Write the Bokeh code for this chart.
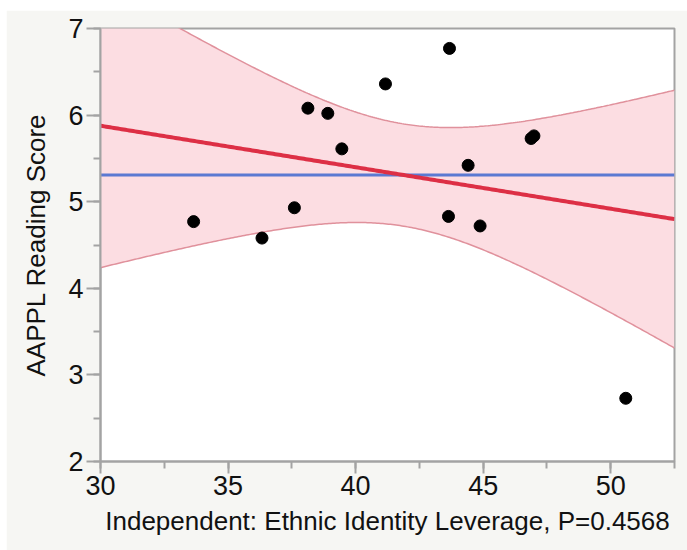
import numpy as np
from bokeh.plotting import figure
from bokeh.models import Range1d, SingleIntervalTicker, Spacer
from bokeh.layouts import column, row
from bokeh.embed import file_html
from bokeh.resources import INLINE

# Leverage values (x) and reading scores (y)
leverage = [33.65, 36.33, 37.60, 38.13, 38.91, 39.46, 41.17,
            43.68, 44.41, 43.64, 44.88, 46.88, 46.99, 50.59]
reading_score = [4.77, 4.58, 4.93, 6.08, 6.02, 5.61, 6.36,
                 6.77, 5.42, 4.83, 4.72, 5.73, 5.76, 2.73]

x_label = "Independent: Ethnic Identity Leverage, P=0.4568"
y_label = "AAPPL Reading Score"
x_lo, x_hi = 30, 52.5
y_lo, y_hi = 2, 7
T_CRIT = 2.1788  # two-sided 95% t quantile, 12 degrees of freedom

# least-squares fit, mean line and 95% confidence curves for the fit
x = np.array(leverage)
y = np.array(reading_score)
n = len(x)
xbar, ybar = x.mean(), y.mean()
sxx = ((x - xbar) ** 2).sum()
slope = ((x - xbar) * (y - ybar)).sum() / sxx
intercept = ybar - slope * xbar
mse = ((y - (intercept + slope * x)) ** 2).sum() / (n - 2)

grid = np.linspace(x_lo, x_hi, 300)
fit = intercept + slope * grid
half = T_CRIT * np.sqrt(mse * (1.0 / n + (grid - xbar) ** 2 / sxx))

FONT = "Liberation Sans"
AXIS_GREY = "#a3a3a3"
PANEL = "#f6f6f3"

p = figure(width=681, height=540, output_backend="svg", toolbar_location=None,
           x_range=Range1d(x_lo, x_hi), y_range=Range1d(y_lo, y_hi),
           min_border_left=94, min_border_right=13, min_border_top=18,
           min_border_bottom=89)
p.background_fill_color = "white"
p.border_fill_color = PANEL
p.outline_line_color = AXIS_GREY
p.outline_line_width = 2
p.grid.visible = False

# confidence band
p.varea(x=grid, y1=fit - half, y2=fit + half, fill_color="#fcdde2")
p.line(grid, fit + half, line_color="#e0919c", line_width=1.5)
p.line(grid, fit - half, line_color="#e0919c", line_width=1.5)

# mean of the response and fitted line
p.line([x_lo, x_hi], [ybar, ybar], line_color="#5b79d2", line_width=3)
p.line(grid, fit, line_color="#dd2f45", line_width=4)

p.scatter(leverage, reading_score, size=12, color="black")

p.xaxis.ticker = SingleIntervalTicker(interval=5, num_minor_ticks=2)
p.yaxis.ticker = SingleIntervalTicker(interval=1, num_minor_ticks=2)
for ax in (p.xaxis[0], p.yaxis[0]):
    ax.axis_line_color = AXIS_GREY
    ax.axis_line_width = 2
    ax.major_tick_line_color = AXIS_GREY
    ax.major_tick_line_width = 2
    ax.minor_tick_line_color = AXIS_GREY
    ax.minor_tick_line_width = 2
    ax.major_tick_in = 0
    ax.minor_tick_in = 0
    ax.minor_tick_out = 7
    ax.major_label_text_font = FONT
    ax.major_label_text_font_size = "27px"
    ax.major_label_text_color = "#111111"
    ax.axis_label_text_font = FONT
    ax.axis_label_text_font_size = "26px"
    ax.axis_label_text_font_style = "normal"
    ax.axis_label_text_color = "#111111"

p.xaxis.major_tick_out = 12
p.yaxis.major_tick_out = 14
p.xaxis.major_label_standoff = 2
p.yaxis.major_label_standoff = 3
p.xaxis.axis_label = x_label
p.yaxis.axis_label = y_label
p.xaxis.axis_label_standoff = 8
p.yaxis.axis_label_standoff = 14

layout = column(Spacer(height=10, width=687),
                row(Spacer(width=6, height=540), p))

open("out.html", "w").write(file_html(layout, INLINE))
